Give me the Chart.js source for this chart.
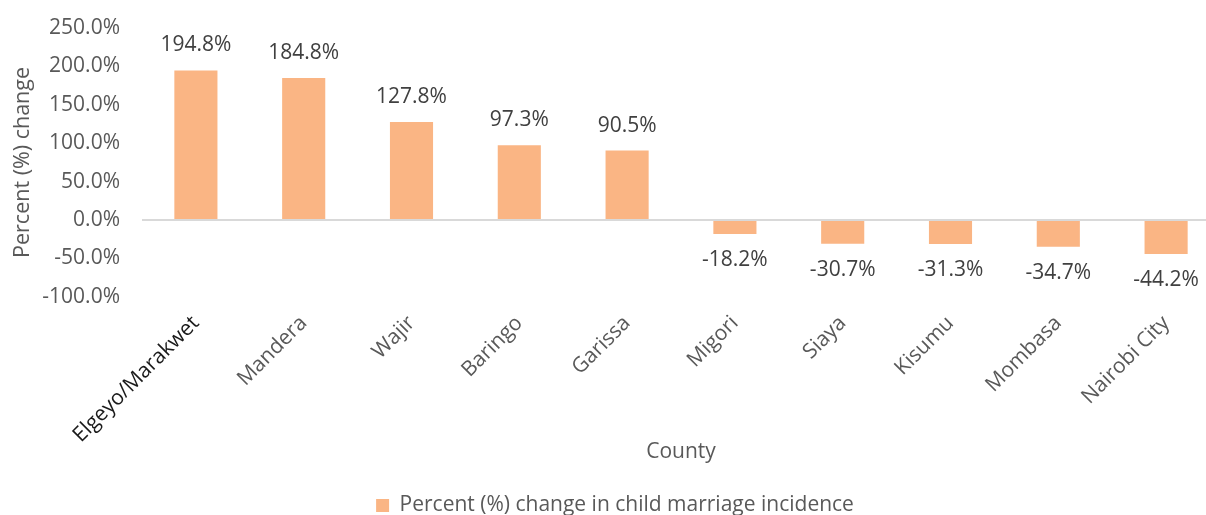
<!DOCTYPE html>
<html>
<head>
<meta charset="utf-8">
<script src="https://cdn.jsdelivr.net/npm/chart.js@4"></script>
<style>
  html, body { margin: 0; padding: 0; background: #fff; overflow: hidden; }
  #wrap { width: 1242px; height: 515px; }
</style>
</head>
<body>
<div id="wrap"><canvas id="chart"></canvas></div>
<script>
// Data
const counties = ['Elgeyo/Marakwet', 'Mandera', 'Wajir', 'Baringo', 'Garissa',
                  'Migori', 'Siaya', 'Kisumu', 'Mombasa', 'Nairobi City'];
const changeValues = [194.8, 184.8, 127.8, 97.3, 90.5, -18.2, -30.7, -31.3, -34.7, -44.2];
const seriesLabel = 'Percent (%) change in child marriage incidence';

const barColor = '#FAB584';
const textColor = '#595959';

// Value labels above/below bars
const valueLabels = {
    id: 'valueLabels',
    afterDatasetsDraw(chart) {
        const ctx = chart.ctx;
        const meta = chart.getDatasetMeta(0);
        ctx.save();
        ctx.font = '21px "Open Sans"';
        ctx.fillStyle = '#404040';
        ctx.textAlign = 'center';
        ctx.textBaseline = 'middle';
        meta.data.forEach((bar, i) => {
            const v = changeValues[i];
            const txt = v.toFixed(1) + '%';
            ctx.fillText(txt, bar.x, v >= 0 ? bar.y - 25 : bar.y + 26);
        });
        ctx.restore();
    }
};

Chart.defaults.font.family = '"Open Sans"';
Chart.defaults.color = textColor;

new Chart(document.getElementById('chart'), {
    type: 'bar',
    data: {
        labels: counties,
        datasets: [{
            label: seriesLabel,
            data: changeValues,
            backgroundColor: barColor,
            barPercentage: 0.8,
            categoryPercentage: 0.5
        }]
    },
    options: {
        responsive: true,
        maintainAspectRatio: false,
        animation: false,
        layout: { padding: { top: 28, left: 10, right: 22, bottom: -11 } },
        plugins: {
            legend: {
                position: 'bottom',
                labels: {
                    font: { size: 21 },
                    color: textColor,
                    boxWidth: 13,
                    boxHeight: 13,
                    padding: 2
                }
            },
            tooltip: { enabled: false }
        },
        scales: {
            x: {
                grid: { display: false },
                border: { display: false },
                ticks: {
                    maxRotation: 45,
                    minRotation: 45,
                    autoSkip: false,
                    padding: 6,
                    font: { size: 21 },
                    color: (c) => c.index === 0 ? '#1a1a1a' : textColor
                },
                title: {
                    display: true,
                    text: 'County',
                    font: { size: 21 },
                    color: textColor,
                    padding: { top: -14, bottom: 28 }
                }
            },
            y: {
                min: -100,
                max: 250,
                border: { display: false },
                afterFit: (s) => {
                    s.width = 132;
                    s.paddingTop = 0;
                    s.paddingBottom = 0;
                },
                grid: {
                    color: (c) => c.tick.value === 0 ? '#d9d9d9' : 'rgba(0,0,0,0)',
                    lineWidth: 2,
                    drawTicks: false
                },
                ticks: {
                    stepSize: 50,
                    padding: 22,
                    font: { size: 21 },
                    color: textColor,
                    callback: (v) => v.toFixed(1) + '%'
                },
                title: {
                    display: true,
                    text: 'Percent (%) change',
                    font: { size: 21.5 },
                    color: textColor,
                    padding: { top: 0, bottom: 8 }
                }
            }
        }
    },
    plugins: [valueLabels]
});
</script>
</body>
</html>
